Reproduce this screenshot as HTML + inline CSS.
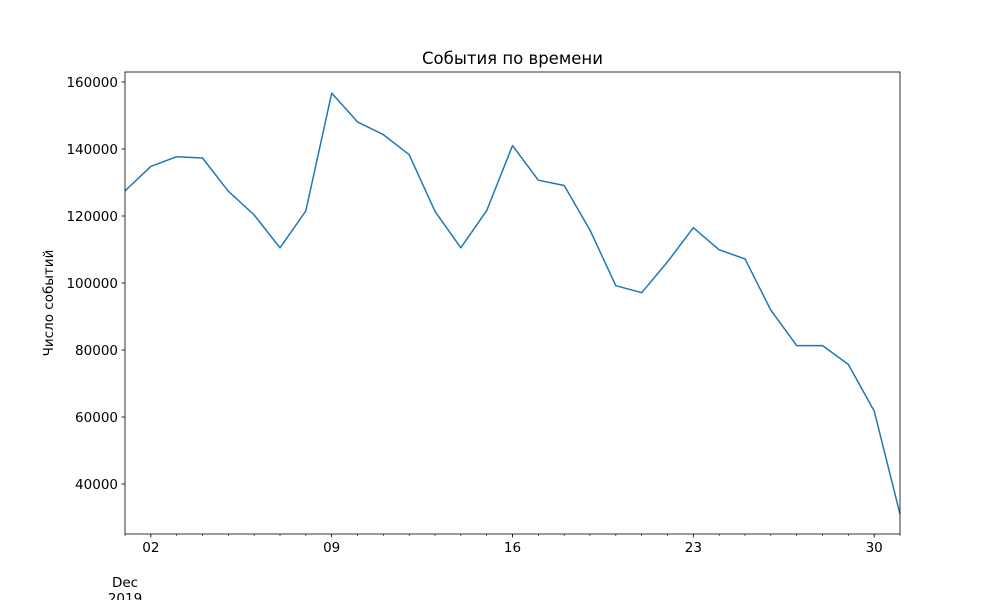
<!DOCTYPE html>
<html><head><meta charset="utf-8"><style>
body{margin:0;background:#fff;}
svg text{font-family:"DejaVu Sans","Liberation Sans",sans-serif;fill:#000;}
</style></head><body>
<svg width="1000" height="600">
<g id="g"></g>
</svg>
<script>
const days = [1,2,3,4,5,6,7,8,9,10,11,12,13,14,15,16,17,18,19,20,21,22,23,24,25,26,27,28,29,30,31];
const events = [127500,134800,137700,137300,127400,120300,110500,121500,156700,148100,144300,138300,121400,110500,121600,141000,130700,129100,115800,99200,97100,106300,116500,109900,107200,91900,81300,81300,75700,61800,31000];
const yTicks = [40000,60000,80000,100000,120000,140000,160000];
const xMajor = [2,9,16,23,30];
const xMajorLabels = ["02","09","16","23","30"];
const L=125,R=900,T=72,B=534;
const x = d => L + (d-1)/(30)*(R-L);
const y = v => 484 - (v-40000)*(402/120000);
const NS="http://www.w3.org/2000/svg", g=document.getElementById('g');
function mk(t,a,txt){const e=document.createElementNS(NS,t);for(const k in a)e.setAttribute(k,a[k]);if(txt!=null)e.textContent=txt;g.appendChild(e);return e;}
let pts=days.map((d,i)=>x(d).toFixed(1)+','+y(events[i]).toFixed(1)).join(' ');
const line=mk('polyline',{points:pts,fill:'none',stroke:'#1f77b4','stroke-width':1.5,'stroke-linejoin':'round'});


const frame=mk('rect',{x:L,y:T,width:R-L,height:B-T,fill:'none',stroke:'#000','stroke-width':0.8});


yTicks.forEach(v=>{mk('line',{x1:L-3.5,x2:L,y1:y(v),y2:y(v),stroke:'#000','stroke-width':0.8});
 const t=mk('text',{x:L-7,y:y(v)+5,'text-anchor':'end','font-size':13.5},String(v));
 
 });
days.forEach(d=>mk('line',{x1:x(d),x2:x(d),y1:B,y2:B+2,stroke:'#000','stroke-width':0.6}));
xMajor.forEach((d,i)=>{mk('line',{x1:x(d),x2:x(d),y1:B,y2:B+3.5,stroke:'#000','stroke-width':0.8});
 const t=mk('text',{x:x(d),y:B+18,'text-anchor':'middle','font-size':13.5},xMajorLabels[i]);
 
 });
const m=mk('text',{x:L,y:587,'text-anchor':'middle','font-size':13.5},'Dec');


const yr=mk('text',{x:L,y:603,'text-anchor':'middle','font-size':13.5},'2019');


const ti=mk('text',{x:512.5,y:64,'text-anchor':'middle','font-size':16.5},'События по времени');


const yl=mk('text',{x:0,y:0,'text-anchor':'middle','font-size':13.5,transform:'translate(53,303) rotate(-90)'},'Число событий');


</script>
</body></html>
